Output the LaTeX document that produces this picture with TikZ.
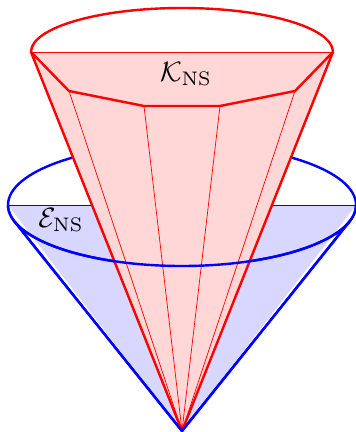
\documentclass[tikz,border=0pt]{standalone}
\definecolor{redfill}{RGB}{255,215,215}
\definecolor{bluefill}{RGB}{215,215,255}
\tikzset{
  thickred/.style={draw=red,line width=2.4pt,line join=round},
  thinred/.style={draw=red,line width=0.7pt},
  thickblue/.style={draw=blue,line width=2.4pt,line join=round},
  thinblue/.style={draw=blue,line width=0.8pt},
  lab/.style={inner sep=0pt,scale=2.8}
}
\begin{document}
\begin{tikzpicture}[x=1pt,y=-1pt]
\useasboundingbox (0,0) rectangle (356,432);
\coordinate (O) at (182,431);
\coordinate (BL) at (8,205);
\coordinate (BR) at (356,205);
\coordinate (TL) at (14.5,221.5);
\coordinate (TR) at (349.5,221.5);
\coordinate (RL) at (31,52);
\coordinate (RR) at (333,52);
\coordinate (P1) at (69,91);
\coordinate (P2) at (144,106);
\coordinate (P3) at (220,106);
\coordinate (P4) at (295,91);
% blue cone
\fill[bluefill] (BL) -- (BR) -- (O) -- cycle;
\draw[thinblue] (BL) -- (BR);
\draw[thickblue] (182,205) ellipse [x radius=174pt,y radius=61pt];
\draw[thickblue] (TL) -- (O) -- (TR);
% red cone
\fill[redfill] (RL) -- (RR) -- (O) -- cycle;
\draw[thinred] (RL) -- (RR);
\draw[thinred] (P1) -- (O);
\draw[thinred] (P2) -- (O);
\draw[thinred] (P3) -- (O);
\draw[thinred] (P4) -- (O);
\begin{scope}
\clip (0,0) rectangle (356,52);
\draw[thickred] (182,52) ellipse [x radius=151pt,y radius=44pt];
\end{scope}
\draw[thickred] (O) -- (RL) -- (P1) -- (P2) -- (P3) -- (P4) -- (RR) -- cycle;
% front arc of the blue ellipse
\begin{scope}
\clip (0,205) rectangle (356,300);
\draw[thickblue] (182,205) ellipse [x radius=174pt,y radius=61pt];
\end{scope}
\draw[thickblue] (TL) -- (O) -- (TR);
\node[lab] (k) at (186,74) {$\mathcal{K}_{\mathrm{NS}}$};
\node[lab] (e) at (61,220) {$\mathcal{E}_{\mathrm{NS}}$};
\end{tikzpicture}
\end{document}
